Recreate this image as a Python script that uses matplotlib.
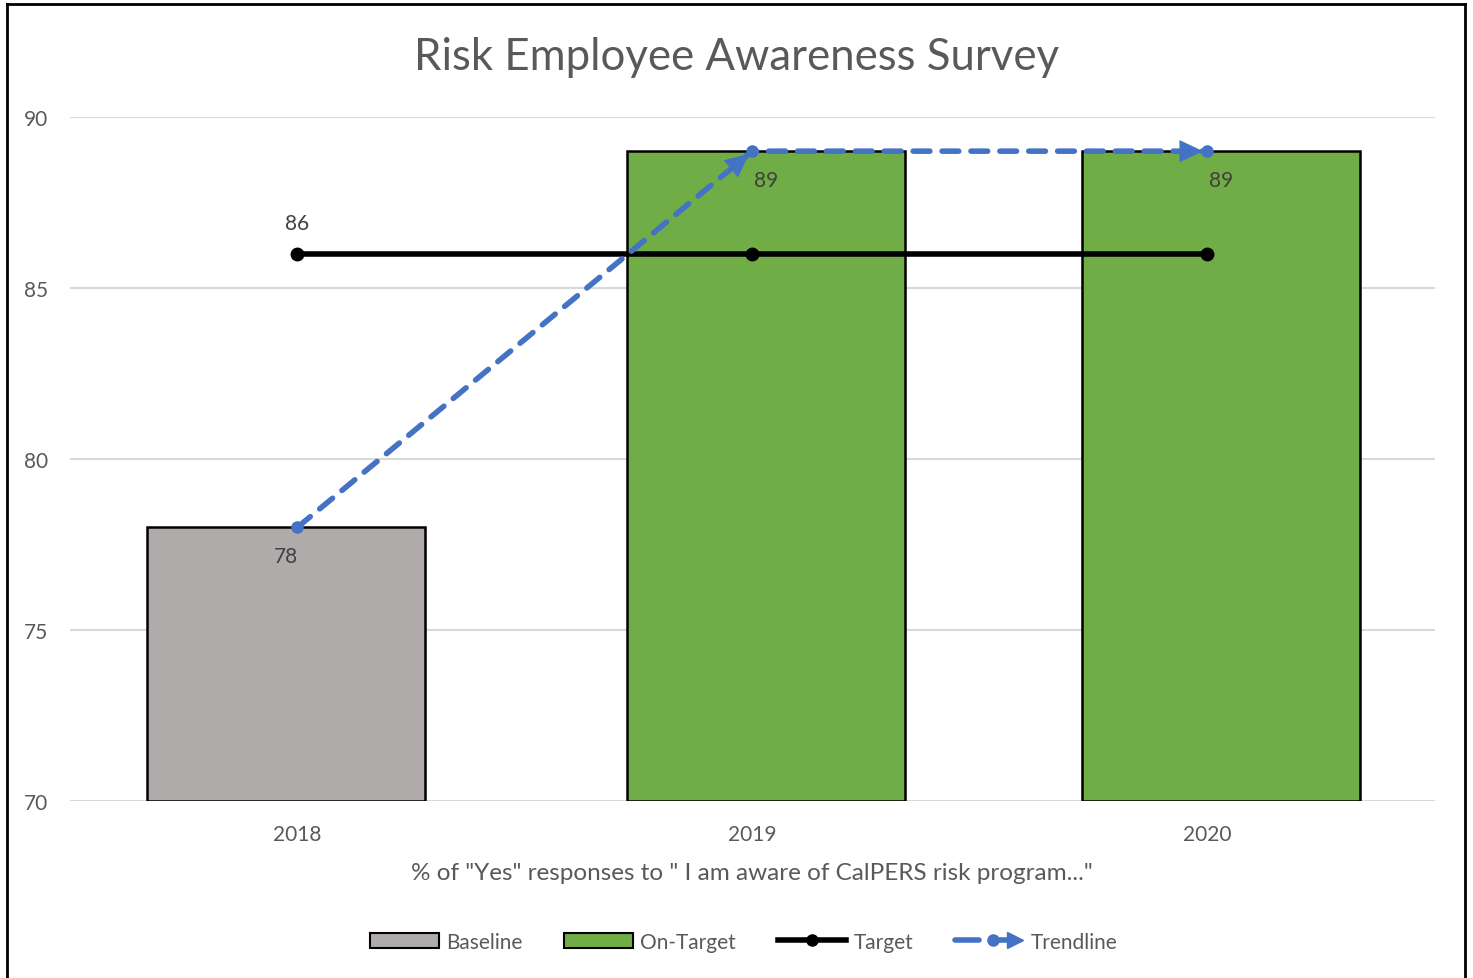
import matplotlib.pyplot as plt
from matplotlib.lines import Line2D
from matplotlib.patches import Patch
from matplotlib.legend_handler import HandlerBase

# --- Data ---
years = ["2018", "2019", "2020"]
baseline = [78, None, None]
on_target = [None, 89, 89]
target = [86, 86, 86]
trendline = [78, 89, 89]

TEXT = "#595959"
GRAY = "#AFABAB"
GREEN = "#70AD47"
BLUE = "#4472C4"
plt.rcParams['font.family'] = ['Lato', 'DejaVu Sans']


class TrendHandler(HandlerBase):
    # dashed line, dot, arrow head - like the Excel legend key
    def create_artists(self, legend, orig, xd, yd, width, height, fontsize, trans):
        y = yd + height / 2
        seg = Line2D([xd, xd + width * 0.35], [y, y], color=BLUE, linewidth=4,
                     solid_capstyle="round", transform=trans)
        dot = Line2D([xd + width * 0.55], [y], marker="o", markersize=8, color=BLUE,
                     transform=trans)
        seg2 = Line2D([xd + width * 0.55, xd + width * 0.8], [y, y], color=BLUE,
                      linewidth=4, transform=trans)
        head = Line2D([xd + width * 0.88], [y], marker=">", markersize=12, color=BLUE,
                      transform=trans)
        return [seg, dot, seg2, head]


fig = plt.figure(figsize=(14.73, 9.79), dpi=100)
ax = fig.add_axes([0.0475, 0.181, 0.9265, 0.6985])

x = list(range(len(years)))
width = 0.61

# bars (two series, Excel-style slight offset)
for i, v in enumerate(baseline):
    if v is not None:
        ax.bar(i - 0.025, v - 70, bottom=70, width=width, color=GRAY,
               edgecolor="black", linewidth=1.8, zorder=2)
        ax.text(i - 0.025, v - 0.55, str(v), ha="center", va="top",
                fontsize=15, color="#404040", zorder=6)
for i, v in enumerate(on_target):
    if v is not None:
        ax.bar(i + 0.03, v - 70, bottom=70, width=width, color=GREEN,
               edgecolor="black", linewidth=1.8, zorder=2)
        ax.text(i + 0.03, v - 0.55, str(v), ha="center", va="top",
                fontsize=15, color="#404040", zorder=6)

# target line
ax.plot(x, target, color="black", linewidth=4, marker="o", markersize=9, zorder=3)
ax.text(x[0], target[0] + 0.6, str(target[0]), ha="center", va="bottom",
        fontsize=15, color="#404040")

# trendline with arrow heads
ax.plot(x, trendline, color=BLUE, linewidth=4, linestyle=(0, (3, 2.2)),
        dash_capstyle="round", zorder=4)
ax.plot(x, trendline, "o", color=BLUE, markersize=8, zorder=4)
for i in range(1, len(x)):
    ax.annotate("", xy=(x[i], trendline[i]), xytext=(x[i - 1], trendline[i - 1]),
                arrowprops=dict(arrowstyle="-|>,head_length=1.7,head_width=0.8",
                                color=BLUE, lw=0.01, shrinkA=0, shrinkB=3),
                zorder=5)

ax.set_xlim(-0.5, 2.5)
ax.set_ylim(70, 90)
ax.set_yticks([70, 75, 80, 85, 90])
ax.set_xticks(x)
ax.set_xticklabels(years)
ax.grid(axis="y", color="#D9D9D9", linewidth=1.5, zorder=0)
ax.set_axisbelow(True)
for s in ax.spines.values():
    s.set_visible(False)
ax.tick_params(length=0, labelsize=15, labelcolor=TEXT)
ax.tick_params(axis="x", pad=17)
ax.tick_params(axis="y", pad=33)
for lab in ax.get_yticklabels():
    lab.set_horizontalalignment("left")

ax.set_xlabel('% of "Yes" responses to " I am aware of CalPERS risk program..."',
              fontsize=17.5, color=TEXT, labelpad=13)
fig.text(0.5, 0.941, "Risk Employee Awareness Survey", ha="center", va="center",
         fontsize=31.5, color=TEXT)

handles = [
    Patch(facecolor=GRAY, edgecolor="black", linewidth=1.5),
    Patch(facecolor=GREEN, edgecolor="black", linewidth=1.5),
    Line2D([], [], color="black", linewidth=4, marker="o", markersize=8),
    Line2D([], [], color=BLUE),
]
fig.legend(handles, ["Baseline", "On-Target", "Target", "Trendline"],
           loc="center", bbox_to_anchor=(0.505, 0.037), ncol=4, frameon=False,
           fontsize=15, labelcolor=TEXT, handlelength=3.3, handletextpad=0.35,
           columnspacing=2.0, handler_map={handles[3]: TrendHandler()})

# outer chart border
for xs, ys in [([0.0045, 0.0045], [0, 0.9945]), ([0.0045, 0.9945], [0.9945, 0.9945]),
               ([0.9945, 0.9945], [0, 0.9945])]:
    fig.add_artist(Line2D(xs, ys, color="black", linewidth=2, transform=fig.transFigure))

fig.savefig("out.png", dpi=100)
